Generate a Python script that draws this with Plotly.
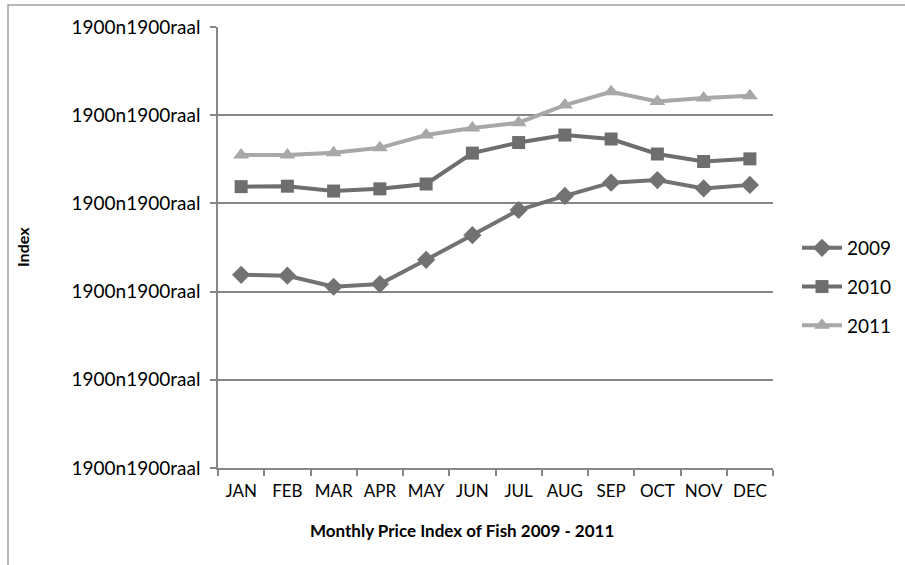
import plotly.graph_objects as go

months = ["JAN", "FEB", "MAR", "APR", "MAY", "JUN", "JUL", "AUG", "SEP", "OCT", "NOV", "DEC"]
idx_2009 = [43.8, 43.6, 41.1, 41.7, 47.2, 52.8, 58.5, 61.7, 64.7, 65.3, 63.4, 64.2]
idx_2010 = [63.8, 63.9, 62.8, 63.3, 64.4, 71.4, 73.8, 75.5, 74.6, 71.2, 69.5, 70.1]
idx_2011 = [71.0, 71.0, 71.5, 72.6, 75.5, 77.1, 78.3, 82.3, 85.3, 83.1, 83.9, 84.4]
y_ticks = [0, 20, 40, 60, 80, 100]
y_tick_labels = ["1900n1900raal"] * 6

series = [
    ("2009", idx_2009, "#727272", "diamond", 14),
    ("2010", idx_2010, "#6e6e6e", "square", 13),
    ("2011", idx_2011, "#a8a8a8", "triangle-up", 14),
]

L, R, T, B = 218, 773, 27, 468
PW, PH = R - L, B - T

fig = go.Figure()
for name, vals, color, sym, sz in series:
    fig.add_trace(go.Scatter(
        x=months, y=vals, name=name, mode="lines+markers",
        line=dict(color=color, width=4),
        marker=dict(symbol=sym, size=sz, color=color),
        legendgroup=name,
    ))

font = "Lato, 'Open Sans', sans-serif"
fig.update_layout(
    width=905, height=565,
    margin=dict(l=L, r=905 - R, t=T, b=565 - B, autoexpand=False),
    paper_bgcolor="white", plot_bgcolor="white",
    font=dict(family=font, size=17, color="#000000"),
    showlegend=True,
    legend=dict(x=(797 - L) / PW, xanchor="left", y=(B - 287) / PH, yanchor="middle",
                font=dict(size=19), tracegroupgap=11,
                bgcolor="rgba(0,0,0,0)", itemwidth=40),
    xaxis=dict(
        type="category", showgrid=False, showline=True, linecolor="#868686", linewidth=1.5,
        ticks="outside", tickson="boundaries", ticklen=6, tickcolor="#868686", tickwidth=1.5,
        tickfont=dict(size=17), tickangle=0, range=[-0.5, 11.5], automargin=False,
        ticklabelstandoff=7,
    ),
    yaxis=dict(
        range=[0, 100], tickvals=y_ticks, ticktext=y_tick_labels,
        showgrid=True, gridcolor="#868686", gridwidth=1.5,
        showline=True, linecolor="#868686", linewidth=1.5,
        ticks="outside", ticklen=6, tickcolor="#868686", tickwidth=1.5,
        tickfont=dict(size=19), zeroline=False, automargin=False,
        ticklabelstandoff=6,
    ),
    annotations=[
        dict(text="<b>Monthly Price Index of Fish 2009 - 2011</b>", xref="paper", yref="paper",
             x=(462 - L) / PW, y=(B - 530) / PH, xanchor="center", yanchor="middle",
             showarrow=False, font=dict(size=17)),
        dict(text="<b>Index</b>", xref="paper", yref="paper", textangle=-90,
             x=(22 - L) / PW, y=(B - 247) / PH, xanchor="center", yanchor="middle",
             showarrow=False, font=dict(size=16)),
    ],
)
fig.add_shape(type="rect", xref="paper", yref="paper",
              x0=(8 - L) / PW, x1=(1000 - L) / PW, y0=(B - 5) / PH, y1=(B - 700) / PH,
              line=dict(color="#a0a0a0", width=1.5), fillcolor="rgba(0,0,0,0)", layer="below")
fig.write_html("out.html", config={"displayModeBar": False},
               post_script="document.body.style.margin='0';document.body.style.overflow='hidden';")
